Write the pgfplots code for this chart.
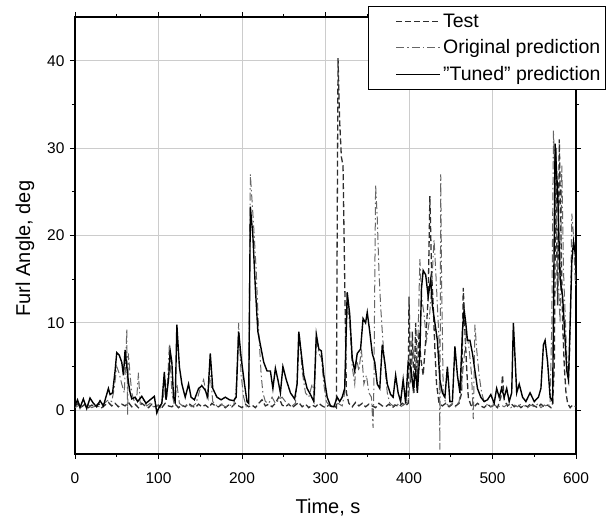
\documentclass[border=0pt]{standalone}
\usepackage{fontspec}
\setmainfont{Liberation Sans}
\usepackage{pgfplots}
\pgfplotsset{compat=1.18}
\definecolor{testc}{HTML}{2E2E2E}
\definecolor{origc}{HTML}{666666}
\begin{document}
\begin{tikzpicture}
\begin{axis}[
  scale only axis, width=501pt, height=437pt,
  xmin=0, xmax=600, ymin=-5, ymax=45,
  xtick={0,100,...,600}, ytick={0,10,20,30,40},
  minor x tick num=1, minor y tick num=1,
  tick align=outside, tick pos=both,
  major tick length=5pt, minor tick length=3pt,
  every tick/.style={black, line width=1pt},
  axis line style={line width=1.2pt},
  grid=major, grid style={gray!40, line width=0.9pt},
  /pgf/number format/assume math mode=true,
  ticklabel style={font=\fontsize{15.5}{18}\selectfont},
  xticklabel style={yshift=-10pt},
  yticklabel style={xshift=-2pt},
  xlabel={Time, s}, ylabel={Furl Angle, deg},
  label style={font=\fontsize{20}{24}\selectfont},
  xlabel style={at={(axis description cs:0.505,-0.1236)}, anchor=center},
  ylabel style={at={(axis description cs:-0.0998,0.47)}, anchor=center},
  legend style={at={(axis description cs:1.0599,1.0252)}, anchor=north east,
    draw=black, line width=0.8pt, fill=white, font=\fontsize{19.5}{22}\selectfont,
    inner xsep=3pt, inner ysep=5.5pt, row sep=7pt},
  legend cell align=left,
  legend image code/.code={\path[draw=none,fill=none] (-25pt,0pt) rectangle (44pt,0pt); \draw[#1] (0pt,0pt) -- (44pt,0pt);},
]
\addplot[testc, line width=1.3pt, dash pattern=on 6pt off 3pt] coordinates {
(0,0.5)(4,0.8)(8,0.4)(12,0.7)(16,0.3)(20,0.6)(24,0.4)(28,0.8)(32,0.3)(36,0.6)(40,0.9)(44,0.5)(48,0.8)(52,0.4)(56,0.7)(60,0.5)(64,0.9)(68,0.4)(72,0.7)(76,0.3)(80,0.8)(84,0.5)(88,0.3)(92,0.7)(96,0.4)(100,0.6)(104,0.3)(108,0.8)(112,0.5)(116,0.4)(120,0.7)(124,0.3)(128,0.6)(132,0.4)(136,0.8)(140,0.5)(144,0.3)(148,0.7)(152,0.4)(156,0.6)(160,0.3)(164,0.8)(168,0.5)(172,0.4)(176,0.7)(180,0.3)(184,0.6)(188,0.4)(192,0.8)(196,0.5)(200,0.3)(204,0.7)(208,0.4)(212,0.6)(216,0.3)(220,0.8)(224,1.2)(228,0.5)(232,0.7)(236,0.4)(240,0.8)(244,1.5)(248,0.6)(252,0.4)(256,0.7)(260,0.3)(264,0.6)(268,0.9)(272,0.4)(276,0.7)(280,0.3)(284,0.6)(288,0.4)(292,0.8)(296,0.5)(300,0.3)(304,0.6)(308,0.4)(311,0.5)(313,0.3)(315,40.3)(317,33)(319,29)(321,28)(323,15)(325,2)(328,0.8)(332,0.4)(336,0.9)(340,0.5)(344,0.8)(348,0.4)(352,0.7)(356,0.5)(360,0.3)(364,0.8)(368,0.5)(372,0.4)(376,0.7)(380,0.3)(384,0.6)(388,0.4)(392,0.8)(396,0.5)(399,0.8)(400,13)(402,3)(404,9)(406,2)(408,10)(410,3)(412,9)(414,6)(417,4)(420,8)(423,13)(425,24.5)(427,16)(429,12)(431,7)(433,3)(436,0.8)(440,0.5)(444,0.8)(448,0.4)(452,0.7)(456,0.5)(460,0.8)(463,2)(465,14)(467,9)(469,5)(471,1.5)(474,0.6)(478,0.4)(482,0.8)(486,0.5)(490,0.3)(494,0.7)(498,0.4)(502,0.6)(506,0.3)(510,1.5)(512,4)(514,1.2)(518,0.5)(522,0.8)(526,0.4)(530,0.7)(534,0.3)(538,0.6)(542,0.4)(546,0.8)(550,0.5)(554,0.3)(558,0.7)(562,0.4)(566,0.6)(570,0.3)(572,0.8)(574,5)(576,30)(577,18)(578,12)(580,31)(582,20)(584,10)(586,5)(588,2)(590,0.8)(593,0.3)(596,0.6)(600,0.4)
};
\addlegendentry{Test}
\addplot[origc, line width=1pt, dash pattern=on 8pt off 3pt on 1.5pt off 3pt] coordinates {
(0,0.3)(5,0.6)(10,0.4)(15,0.7)(20,0.3)(25,0.5)(30,0.4)(35,0.8)(40,1.2)(44,1.0)(47,2.5)(50,5.0)(53,4.2)(56,3.0)(59,2.0)(61,6.0)(62,9.3)(63,-0.5)(64,6.5)(66,4)(68,2)(71,1.0)(74,1.5)(76,4.3)(78,0.8)(82,1.2)(86,0.5)(90,0.8)(94,0.4)(98,0.6)(102,0.3)(106,1.5)(108,3.5)(110,1.5)(113,7.5)(116,2)(119,0.6)(122,3)(125,0.8)(130,0.4)(135,0.7)(140,0.4)(145,0.8)(150,2.5)(154,3.5)(158,1.5)(162,4)(165,1.0)(170,0.5)(175,0.7)(180,0.4)(185,0.6)(190,0.5)(193,2.5)(196,10)(199,4)(202,1.5)(205,0.5)(208,1.5)(210,27)(212,24)(214,21)(217,16)(220,9)(223,4)(225,2)(228,1.0)(232,0.8)(236,1.5)(240,0.8)(244,1.2)(248,1.5)(252,1.0)(256,0.7)(260,0.5)(264,0.8)(267,5)(269,8.5)(272,4.5)(276,2.0)(280,1.5)(284,3.0)(287,2.0)(289,8.5)(292,6.5)(295,6)(298,3)(301,1.0)(305,0.5)(310,0.4)(315,0.8)(320,0.5)(323,2)(326,12)(329,10)(332,5)(335,3)(337,6)(340,4.5)(343,7)(346,3)(349,4)(352,2)(355,1.5)(357,-2)(358,3)(360,25.8)(362,22)(364,16)(366,12)(368,9)(371,5)(374,2)(377,0.8)(381,0.5)(385,0.8)(390,0.4)(395,0.7)(399,1.0)(402,4)(405,7)(408,5)(411,9)(413,17.3)(415,13)(418,11)(421,8)(424,10)(427,14)(430,19.5)(432,16)(434,12)(436,8)(437,-4.5)(438,27)(439,15)(441,2)(444,0.8)(448,0.5)(452,0.8)(456,0.4)(460,1.0)(463,3)(466,6)(469,9)(472,7)(475,4)(477,-1)(479,9.8)(481,7)(484,4)(487,2)(490,1)(494,0.6)(498,0.4)(502,0.7)(506,0.3)(510,0.6)(514,0.4)(518,0.7)(522,0.3)(526,0.6)(530,0.4)(534,0.7)(538,0.5)(542,0.3)(546,0.6)(550,0.4)(554,0.7)(558,0.3)(562,0.6)(566,0.4)(569,0.8)(571,10)(573,32)(575,26)(577,20)(579,14)(581,10)(583,28)(585,16)(587,11)(589,6)(591,3)(593,8)(595,22.5)(597,20)(599,15)(600,14)
};
\addlegendentry{Original prediction}
\addplot[black, line width=1.4pt] coordinates {
(0,0.5)(3,1.2)(6,0.3)(10,1.3)(14,0.2)(18,1.4)(22,0.8)(26,0.4)(30,1.1)(34,0.5)(37,1.5)(40,2.5)(42,1.8)(45,2.0)(48,4.5)(50,6.6)(53,6.3)(56,5.5)(58,4.0)(60,6.9)(62,5)(64,3.2)(66,2)(68,1.3)(72,1.5)(75,1.0)(80,1.6)(85,0.8)(90,1.2)(95,1.6)(98,-0.3)(100,0.2)(104,0.8)(107,4.4)(109,1.2)(112,3.5)(114,6.8)(116,5.5)(118,1.5)(120,1.0)(122,9.8)(125,5)(128,3.0)(132,1.5)(136,3.0)(139,1.5)(143,1.2)(148,2.5)(152,2.8)(156,2.3)(159,1.5)(162,6.5)(165,2.5)(170,1.5)(175,1.2)(180,1.5)(185,1.2)(190,1.1)(193,1.5)(196,9.0)(199,6)(203,3)(206,1.0)(208,0.8)(210,23.3)(213,20)(216,14)(219,9)(222,7.5)(226,5.5)(230,4.5)(234,4.5)(237,2.5)(240,4.8)(243,3.5)(246,2)(249,5.0)(253,3.5)(258,2.0)(263,1.3)(266,3.0)(268,9.0)(271,6.5)(274,4)(278,2.5)(282,1.8)(286,1.0)(289,8.7)(292,7.0)(295,6.8)(298,4)(302,1.5)(306,0.5)(310,0.4)(314,1.5)(317,1.0)(320,1.5)(323,2.5)(326,13.5)(329,11)(332,6)(335,4.5)(338,6.5)(342,7)(345,10.5)(348,10)(350,11.2)(353,9)(356,6.5)(359,5.5)(362,3.0)(365,2.5)(368,7.5)(371,5.5)(374,3)(378,1.8)(381,1.5)(384,4.0)(387,2)(390,1.0)(393,3.5)(396,0.8)(399,5.5)(402,5.0)(405,2.5)(408,4.5)(410,2)(413,6.5)(415,14)(417,16)(420,15.5)(423,13)(426,15.0)(428,12)(431,10)(434,8)(437,3.5)(440,2)(443,1.5)(446,5.0)(449,1.0)(452,1.0)(455,7.3)(458,4)(461,2)(464,9)(466,11.5)(468,10)(470,8)(473,8)(476,6.5)(479,4.5)(482,2.5)(486,1.5)(490,1.0)(494,1.2)(498,1.8)(502,0.8)(505,2.5)(508,1.5)(511,2.5)(514,1.5)(517,2.5)(520,1.0)(523,2.0)(525,10.0)(527,6)(529,2)(532,3)(536,1.5)(540,1.0)(545,2)(550,1.0)(555,1.5)(558,2.5)(561,7.5)(563,8)(566,5.5)(569,1.5)(572,1.0)(575,30.5)(578,25)(581,15)(584,13)(587,8)(589,4.5)(591,3.5)(593,10)(595,17)(597,19.3)(599,18)(600,17)
};
\addlegendentry{"Tuned" prediction}
\end{axis}
\pgfresetboundingbox
\path (-75pt,-67pt) rectangle (533pt,454pt);
\end{tikzpicture}
\end{document}
